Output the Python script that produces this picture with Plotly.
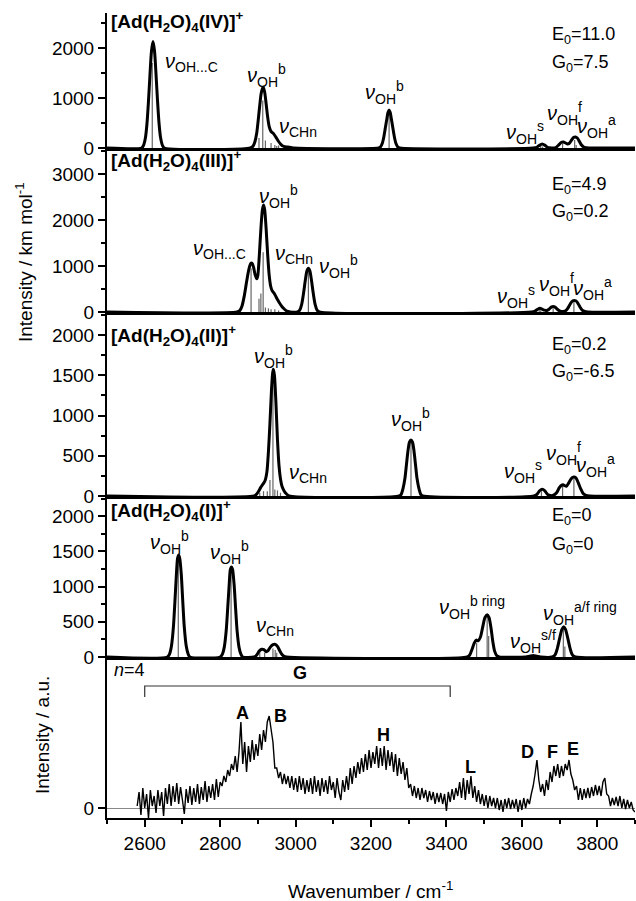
import plotly.graph_objects as go
from plotly.subplots import make_subplots

# ---------------- data ----------------
# Panel IV  [Ad(H2O)4(IV)]+
env4_x = [2500, 2592, 2597, 2602, 2606, 2610, 2614, 2618, 2622, 2626, 2630, 2634, 2638, 2642, 2647, 2652,
          2880, 2887, 2892, 2897, 2901, 2905, 2909, 2914, 2918, 2922, 2926, 2930, 2935, 2940, 2945, 2950, 2955,
          2960, 2966, 2972, 2980, 2988, 2995,
          3220, 3225, 3230, 3234, 3238, 3242, 3245, 3248, 3251, 3254, 3258, 3262, 3266, 3271, 3276,
          3630, 3640, 3646, 3654, 3662, 3668, 3674, 3682, 3690, 3697, 3704, 3710, 3716, 3721, 3726, 3732, 3737,
          3742, 3747, 3752, 3757, 3763, 3770, 3780, 3900]
env4_y = [0, 0, 55, 210, 490, 940, 1470, 1940, 2130, 1940, 1470, 940, 490, 210, 55, 0,
          0, 35, 120, 300, 560, 850, 1100, 1220, 1120, 880, 620, 430, 330, 300, 250, 190, 130,
          80, 40, 25, 20, 10, 0,
          0, 20, 95, 220, 400, 580, 710, 760, 710, 580, 400, 220, 95, 20, 0,
          0, 15, 50, 80, 50, 15, 5, 0, 10, 55, 110, 120, 100, 80, 95, 160, 210,
          220, 200, 140, 70, 25, 5, 0, 0]
stick4_x = [2620, 2903, 2913, 2920, 2935, 2945, 2950, 2955, 3248, 3650, 3655, 3708, 3740, 3744]
stick4_y = [1700, 200, 950, 150, 100, 60, 40, 50, 700, 40, 30, 90, 160, 60]

# Panel III  [Ad(H2O)4(III)]+
env3_x = [2500, 2845, 2852, 2858, 2864, 2870, 2876, 2881, 2885, 2889, 2893, 2897, 2900, 2904, 2908, 2912,
          2915, 2918, 2922, 2926, 2930, 2934, 2938, 2942, 2947, 2952, 2957, 2962, 2968, 2974, 2980, 2986,
          3005, 3011, 3016, 3021, 3026, 3030, 3034, 3038, 3042, 3047, 3052, 3057, 3063,
          3625, 3635, 3642, 3648, 3654, 3660, 3666, 3672, 3678, 3683, 3688, 3694, 3700, 3710, 3718, 3724,
          3730, 3735, 3739, 3743, 3748, 3754, 3760, 3767, 3775, 3900]
env3_y = [0, 0, 30, 130, 350, 650, 920, 1050, 1060, 960, 800, 720, 800, 1250, 1800, 2220,
          2326, 2230, 1800, 1250, 800, 560, 460, 420, 350, 270, 200, 140, 80, 35, 10, 0,
          0, 40, 160, 400, 700, 890, 950, 890, 700, 400, 160, 40, 0,
          0, 20, 60, 80, 60, 40, 30, 60, 105, 120, 105, 60, 25, 10, 40, 110,
          200, 245, 250, 245, 200, 110, 40, 10, 0, 0]
stick3_x = [2882, 2903, 2908, 2914, 2920, 2928, 2935, 2945, 2955, 3034, 3646, 3650, 3683, 3738]
stick3_y = [950, 290, 400, 1300, 100, 80, 60, 60, 30, 900, 50, 40, 80, 230]

# Panel II  [Ad(H2O)4(II)]+
env2_x = [2500, 2890, 2896, 2902, 2908, 2914, 2919, 2924, 2928, 2932, 2936, 2939, 2941, 2944, 2948, 2952,
          2956, 2960, 2964, 2970, 2976, 2983,
          3275, 3280, 3285, 3290, 3294, 3298, 3302, 3306, 3310, 3314, 3318, 3322, 3327, 3332, 3337,
          3632, 3640, 3647, 3654, 3661, 3668, 3676, 3684, 3692, 3699, 3705, 3709, 3713, 3718, 3724, 3730,
          3735, 3739, 3744, 3750, 3756, 3762, 3770, 3780, 3900]
env2_y = [0, 0, 20, 60, 110, 150, 190, 300, 550, 900, 1300, 1520, 1575, 1500, 1150, 700,
          380, 210, 120, 60, 25, 0,
          0, 20, 95, 220, 390, 560, 670, 695, 670, 560, 390, 220, 95, 20, 0,
          0, 20, 65, 85, 65, 20, 5, 10, 40, 100, 135, 140, 130, 120, 160, 210,
          232, 235, 220, 160, 90, 35, 8, 0, 0]
stick2_x = [2905, 2915, 2925, 2932, 2940, 2945, 2952, 2960, 3306, 3652, 3708, 3738]
stick2_y = [40, 60, 60, 200, 1550, 80, 70, 40, 680, 60, 130, 210]

# Panel I  [Ad(H2O)4(I)]+
env1_x = [2500, 2660, 2666, 2671, 2676, 2680, 2684, 2687, 2690, 2693, 2697, 2701, 2705, 2710, 2715, 2720,
          2800, 2806, 2811, 2816, 2820, 2824, 2827, 2830, 2833, 2837, 2841, 2845, 2850, 2855, 2860,
          2890, 2897, 2903, 2910, 2916, 2922, 2927, 2933, 2940, 2946, 2952, 2958, 2964, 2970, 2976,
          3455, 3462, 3468, 3474, 3479, 3484, 3490, 3496, 3502, 3508, 3513, 3518, 3523, 3528, 3534, 3540,
          3610, 3620, 3630, 3640, 3650,
          3680, 3688, 3694, 3700, 3706, 3711, 3716, 3722, 3728, 3734, 3742, 3900]
env1_y = [0, 0, 45, 160, 420, 780, 1170, 1400, 1450, 1400, 1170, 780, 420, 160, 45, 0,
          0, 40, 140, 370, 690, 1030, 1240, 1280, 1240, 1030, 690, 370, 140, 40, 0,
          0, 30, 80, 110, 105, 75, 90, 140, 175, 180, 150, 90, 35, 8, 0,
          0, 30, 110, 200, 240, 230, 280, 420, 560, 600, 560, 420, 220, 80, 15, 0,
          0, 10, 20, 10, 0,
          0, 30, 120, 260, 390, 430, 390, 260, 120, 30, 0, 0]
stick1_x = [2689, 2829, 2905, 2918, 2940, 2946, 2950, 3480, 3508, 3512, 3630, 3710, 3714]
stick1_y = [1380, 1250, 80, 60, 120, 100, 60, 200, 580, 300, 15, 400, 150]

# Experimental spectrum, n=4 (arbitrary units), 2580-3900 cm-1 every 5 cm-1
exp_start, exp_step = 2580, 5
exp_y = [
    0.02, 0.16, -0.07, 0.20, 0.00, 0.14, -0.10, 0.18, 0.02, 0.12,
    -0.05, 0.18, 0.02, 0.16, -0.08, 0.20, 0.04, 0.24, 0.02, 0.22,
    0.06, 0.25, 0.04, 0.21, 0.08, -0.06, 0.19, 0.05, 0.22, 0.03,
    0.20, 0.06, 0.24, 0.04, 0.21, 0.08, 0.27, 0.06, 0.22, 0.10,
    0.24, 0.08, 0.29, 0.11, 0.26, 0.22, 0.32, 0.26, 0.38, 0.32,
    0.44, 0.38, 0.52, 0.36, 0.56, 0.86, 0.44, 0.66, 0.36, 0.62,
    0.46, 0.68, 0.48, 0.64, 0.52, 0.74, 0.58, 0.78, 0.66, 0.86,
    0.92, 0.76, 0.66, 0.40, 0.40, 0.30, 0.36, 0.24, 0.34, 0.24,
    0.32, 0.20, 0.32, 0.18, 0.30, 0.16, 0.32, 0.18, 0.30, 0.14,
    0.28, 0.16, 0.30, 0.14, 0.32, 0.16, 0.28, 0.12, 0.30, 0.16,
    0.28, 0.14, 0.32, 0.18, 0.26, 0.10, 0.30, 0.16, 0.08, 0.28,
    0.16, 0.32, 0.18, 0.40, 0.24, 0.42, 0.30, 0.46, 0.34, 0.50,
    0.36, 0.54, 0.38, 0.58, 0.40, 0.56, 0.44, 0.62, 0.40, 0.60,
    0.42, 0.62, 0.38, 0.58, 0.42, 0.56, 0.36, 0.54, 0.32, 0.50,
    0.34, 0.46, 0.28, 0.40, 0.20, 0.24, 0.12, 0.22, 0.10, 0.20,
    0.08, 0.20, 0.10, 0.18, 0.06, 0.17, 0.08, 0.16, 0.04, 0.15,
    0.06, 0.15, 0.04, 0.14, -0.03, 0.16, 0.06, 0.19, 0.08, 0.20,
    0.12, 0.26, 0.10, 0.30, 0.08, 0.28, 0.14, 0.32, 0.10, 0.22,
    0.06, 0.18, 0.04, 0.14, 0.02, 0.13, 0.00, 0.12, 0.02, 0.10,
    0.00, 0.10, -0.02, 0.08, -0.04, 0.09, 0.00, 0.10, -0.01, 0.08,
    0.00, 0.09, -0.04, 0.08, -0.02, 0.10, 0.00, 0.09, 0.04, 0.14,
    0.22, 0.34, 0.48, 0.28, 0.16, 0.24, 0.12, 0.28, 0.18, 0.36,
    0.26, 0.42, 0.32, 0.44, 0.30, 0.42, 0.32, 0.44, 0.38, 0.48,
    0.34, 0.28, 0.18, 0.22, 0.08, 0.20, 0.08, 0.19, 0.10, 0.20,
    0.10, 0.21, 0.12, 0.23, 0.13, 0.22, 0.12, 0.26, 0.30, 0.14,
    0.12, 0.02, 0.10, 0.03, 0.11, 0.02, 0.12, 0.00, 0.09, -0.01,
    0.08, 0.00, 0.06, -0.02, -0.04,
]
exp_x = [exp_start + exp_step * i for i in range(len(exp_y))]

panel_names = ["[Ad(H<sub>2</sub>O)<sub>4</sub>(IV)]<sup>+</sup>",
               "[Ad(H<sub>2</sub>O)<sub>4</sub>(III)]<sup>+</sup>",
               "[Ad(H<sub>2</sub>O)<sub>4</sub>(II)]<sup>+</sup>",
               "[Ad(H<sub>2</sub>O)<sub>4</sub>(I)]<sup>+</sup>"]
E0_vals = ["11.0", "4.9", "0.2", "0"]
G0_vals = ["7.5", "0.2", "-6.5", "0"]

# ---------------- figure ----------------
FONT = "Liberation Sans, Arial, Helvetica, sans-serif"
fig = make_subplots(rows=5, cols=1, shared_xaxes=False, vertical_spacing=0)

envs = [(env4_x, env4_y, stick4_x, stick4_y),
        (env3_x, env3_y, stick3_x, stick3_y),
        (env2_x, env2_y, stick2_x, stick2_y),
        (env1_x, env1_y, stick1_x, stick1_y)]
for r, (ex, ey, sx, sy) in enumerate(envs, start=1):
    xs, ys = [], []
    for a, b in zip(sx, sy):
        xs += [a, a, None]
        ys += [0, b, None]
    fig.add_trace(go.Scatter(x=xs, y=ys, mode="lines", line=dict(color="#666666", width=1.2),
                             showlegend=False, hoverinfo="skip"), row=r, col=1)
    fig.add_trace(go.Scatter(x=ex, y=ey, mode="lines", line=dict(color="black", width=3, shape="spline", smoothing=0.7),
                             showlegend=False), row=r, col=1)

fig.add_trace(go.Scatter(x=exp_x, y=exp_y, mode="lines", line=dict(color="black", width=1.4),
                         showlegend=False), row=5, col=1)

# domains: px positions of panel borders (plot area 13..818)
domains = [[0.8323, 1.0], [0.6286, 0.8323], [0.4, 0.6286], [0.2, 0.4], [0.0, 0.2]]
yranges = [[0, 2700], [0, 3565], [0, 2287], [0, 2287], [-0.10, 1.51]]
ydticks = [1000, 1000, 500, 500, None]
yminor = [500, 500, 250, 250, None]

for i in range(5):
    ax = "yaxis" if i == 0 else f"yaxis{i+1}"
    xa = "xaxis" if i == 0 else f"xaxis{i+1}"
    yd = dict(domain=domains[i], range=yranges[i], showline=True, linecolor="black", linewidth=2,
              ticks="outside", ticklen=7, tickwidth=2, tickcolor="black", showgrid=False,
              zeroline=False, tickfont=dict(family=FONT, size=19, color="black"))
    if ydticks[i]:
        yd.update(tick0=0, dtick=ydticks[i],
                  minor=dict(dtick=yminor[i], tick0=0, ticks="outside", ticklen=4, tickwidth=1.5, tickcolor="black"))
    else:
        yd.update(tickmode="array", tickvals=[0], ticktext=["0"], zeroline=True, zerolinecolor="#888888",
                  zerolinewidth=1)
    xd = dict(range=[2500, 3900], showline=True, linecolor="black", linewidth=2.5, showgrid=False,
              zeroline=False)
    if i < 4:
        xd.update(showticklabels=False, ticks="")
    else:
        xd.update(linewidth=2, ticks="outside", ticklen=7, tickwidth=2, tickcolor="black", tick0=2600, dtick=200,
                  minor=dict(tick0=2500, dtick=100, ticks="outside", ticklen=4, tickwidth=1.5, tickcolor="black"),
                  tickfont=dict(family=FONT, size=19, color="black"))
    fig.layout[ax].update(yd)
    fig.layout[xa].update(xd)

anns = []


def ann(text, x, y, r, xanchor="center", size=20, yanchor="middle"):
    xr = "x" if r == 1 else f"x{r}"
    yr = "y" if r == 1 else f"y{r}"
    anns.append(dict(text=text, x=x, y=y, xref=xr, yref=yr, xanchor=xanchor, yanchor=yanchor,
                     showarrow=False, font=dict(family=FONT, size=size, color="black")))


def nu(sub, sup=""):
    s = "<i>ν</i><sub>" + sub + "</sub>"
    if sup:
        s += "<sup>" + sup + "</sup>"
    return s


name_y = [2540, 3300, 2000, 2075]
E_y = [2260, 2760, 1875, 1990]
G_y = [1700, 2170, 1540, 1590]
for r in range(1, 5):
    ann("<b>" + panel_names[r-1] + "</b>", 2506, name_y[r-1], r, xanchor="left", size=19)
    ann("E<sub>0</sub>=" + E0_vals[r-1], 3675, E_y[r-1], r, xanchor="left", size=18)
    ann("G<sub>0</sub>=" + G0_vals[r-1], 3675, G_y[r-1], r, xanchor="left", size=18)

# panel IV
ann(nu("OH...C"), 2649, 1720, 1, xanchor="left")
ann(nu("OH", "b"), 2924, 1460, 1)
ann(nu("CHn"), 2951, 420, 1, xanchor="left")
ann(nu("OH", "b"), 3237, 1120, 1)
ann(nu("OH", "s"), 3608, 320, 1)
ann(nu("OH", "f"), 3712, 700, 1)
ann(nu("OH", "a"), 3799, 440, 1)
# panel III
ann(nu("OH...C"), 2874, 1350, 2, xanchor="right")
ann(nu("OH", "b"), 2954, 2500, 2)
ann(nu("CHn"), 2941, 1260, 2, xanchor="left")
ann(nu("OH", "b"), 3057, 980, 2, xanchor="left")
ann(nu("OH", "s"), 3584, 330, 2)
ann(nu("OH", "f"), 3692, 600, 2)
ann(nu("OH", "a"), 3788, 520, 2)
# panel II
ann(nu("OH", "b"), 2941, 1730, 3)
ann(nu("CHn"), 2978, 285, 3, xanchor="left")
ann(nu("OH", "b"), 3304, 945, 3)
ann(nu("OH", "s"), 3602, 300, 3)
ann(nu("OH", "f"), 3710, 525, 3)
ann(nu("OH", "a"), 3796, 385, 3)
# panel I
ann(nu("OH", "b"), 2667, 1620, 4)
ann(nu("OH", "b"), 2826, 1480, 4)
ann(nu("CHn"), 2946, 430, 4)
ann(nu("OH", "b ring"), 3468, 710, 4)
ann(nu("OH", "s/f"), 3630, 215, 4)
ann(nu("OH", "a/f ring"), 3754, 620, 4)
# experimental
ann("<i>n</i>=4", 2512, 1.38, 5, xanchor="left", size=18)
for t, x, y in [("G", 3012, 1.35), ("A", 2858, 0.95), ("B", 2961, 0.92), ("H", 3232, 0.73),
                ("L", 3463, 0.41), ("D", 3614, 0.56), ("F", 3680, 0.56), ("E", 3736, 0.59)]:
    ann("<b>" + t + "</b>", x, y, 5, size=18)

shapes = [dict(type="path", path="M 2600 1.11 L 2600 1.22 L 3410 1.22 L 3410 1.11", xref="x5", yref="y5",
               line=dict(color="#333333", width=1.2))]

fig.update_layout(
    width=636, height=901,
    margin=dict(l=107, r=1, t=13, b=83),
    paper_bgcolor="white", plot_bgcolor="white",
    font=dict(family=FONT, size=19, color="black"),
    showlegend=False,
    shapes=shapes,
)

# pixel-positioned axis titles -> paper coords
plot_h = 901 - 13 - 83
plot_w = 636 - 107 - 1


def px_to_paper(px, py):
    return (px - 107) / plot_w, (818 - py) / plot_h


for text, px, py, ang in [("Intensity / km mol<sup>-1</sup>", 24, 262, -90),
                          ("Intensity / a.u.", 42, 735, -90),
                          ("Wavenumber / cm<sup>-1</sup>", 370, 890, 0)]:
    tx, ty = px_to_paper(px, py)
    anns.append(dict(text=text, x=tx, y=ty, xref="paper", yref="paper", showarrow=False,
                     textangle=ang, xanchor="center", yanchor="middle",
                     font=dict(family=FONT, size=19, color="black")))
fig.update_layout(annotations=anns)

fig.write_html("out.html", config={"displayModeBar": False},
               post_script="document.body.style.margin='0';document.body.style.overflow='hidden';")
